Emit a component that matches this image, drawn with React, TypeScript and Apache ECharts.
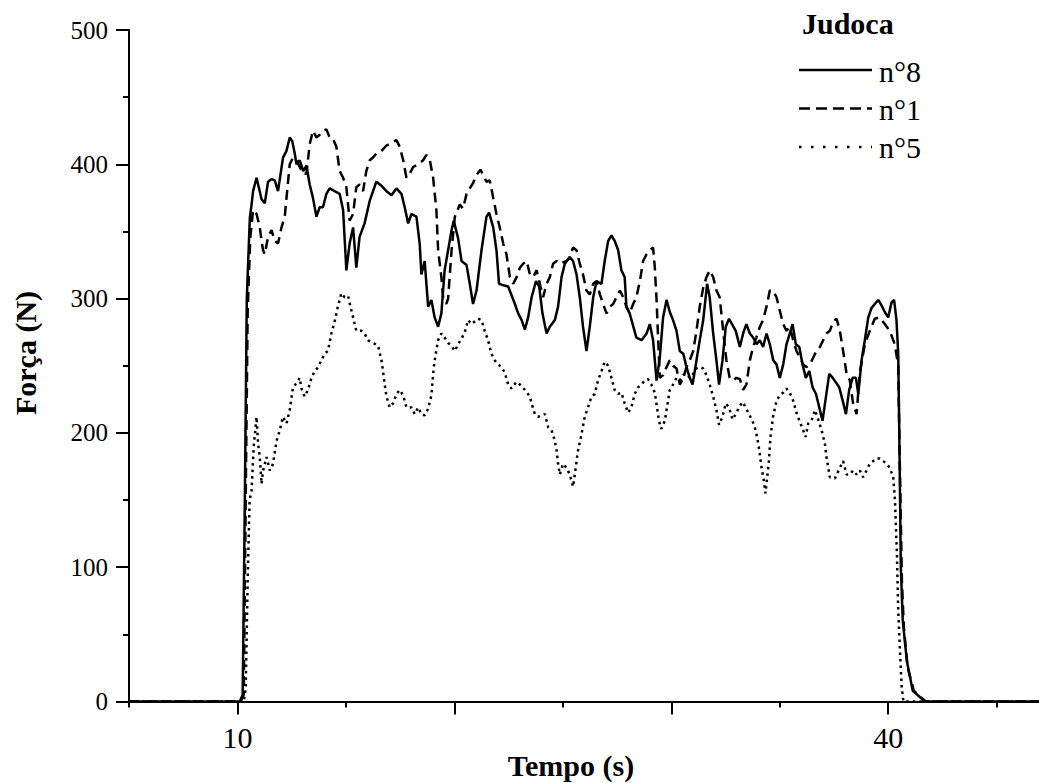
import React, { useEffect, useRef } from "react";
import * as echarts from "echarts";

// ---- Data (time in s, force in N) ----
const seriesNames = ["n°8", "n°1", "n°5"];
const xLabelValues = [10, 40];
const xMajorTicks = [10, 20, 30, 40];
const xMinorTicks = [5, 15, 25, 35, 45];
const yTicks = [0, 100, 200, 300, 400, 500];

const judoca8: [number, number][] = [
  [5, 0], [10.11, 0], [10.24, 5], [10.34, 150], [10.43, 300], [10.57, 360], [10.65, 370], [10.72, 380], [10.88, 390], [11.11, 374],
  [11.26, 371], [11.41, 387], [11.57, 389], [11.72, 388], [11.87, 380], [12.10, 405], [12.26, 410], [12.41, 420], [12.53, 417], [12.64, 408],
  [12.72, 400], [12.87, 403], [13.03, 395], [13.18, 399], [13.33, 385], [13.48, 375], [13.64, 361], [13.79, 368], [13.94, 368], [14.10, 378],
  [14.25, 382], [14.48, 380], [14.71, 378], [14.87, 366], [15.02, 321], [15.17, 341], [15.33, 353], [15.48, 323], [15.63, 346], [15.86, 356],
  [16.10, 373], [16.40, 387], [16.64, 384], [16.87, 380], [17.10, 377], [17.33, 382], [17.56, 378], [17.71, 368], [17.87, 356], [18.02, 363],
  [18.25, 361], [18.40, 341], [18.48, 318], [18.63, 328], [18.79, 294], [18.94, 299], [19.09, 286], [19.25, 279], [19.40, 289], [19.55, 321],
  [19.71, 336], [19.87, 351], [19.97, 358], [20.17, 345], [20.33, 328], [20.56, 325], [20.71, 311], [20.86, 296], [21.02, 306], [21.25, 336],
  [21.48, 361], [21.60, 364], [21.79, 353], [21.94, 336], [22.06, 311], [22.25, 310], [22.48, 309], [22.79, 296], [22.94, 289], [23.10, 284],
  [23.25, 277], [23.40, 286], [23.56, 301], [23.76, 313], [23.91, 309], [24.06, 289], [24.25, 274], [24.40, 279], [24.63, 284], [24.78, 294],
  [24.94, 316], [25.09, 326], [25.32, 331], [25.47, 328], [25.63, 318], [25.78, 301], [25.93, 279], [26.09, 261], [26.24, 279], [26.40, 301],
  [26.55, 313], [26.78, 311], [26.93, 328], [27.09, 343], [27.24, 347], [27.39, 343], [27.55, 336], [27.70, 321], [27.85, 316], [27.93, 294],
  [28.08, 289], [28.39, 271], [28.63, 269], [28.86, 274], [29.01, 281], [29.16, 269], [29.32, 239], [29.47, 256], [29.62, 286], [29.78, 299],
  [29.93, 290], [30.08, 284], [30.24, 276], [30.39, 261], [30.55, 259], [30.70, 249], [30.85, 241], [30.98, 236], [31.16, 254], [31.31, 269],
  [31.47, 284], [31.65, 311], [31.77, 301], [31.93, 274], [32.08, 254], [32.20, 236], [32.36, 254], [32.51, 279], [32.66, 285], [32.97, 276],
  [33.16, 264], [33.31, 274], [33.46, 281], [33.62, 274], [33.77, 271], [33.93, 266], [34.08, 269], [34.23, 264], [34.39, 274], [34.54, 266],
  [34.70, 254], [34.85, 251], [35.00, 241], [35.16, 251], [35.31, 266], [35.46, 274], [35.59, 281], [35.74, 266], [35.90, 264], [36.05, 251],
  [36.20, 241], [36.36, 246], [36.51, 234], [36.67, 229], [36.82, 219], [36.97, 209], [37.13, 227], [37.28, 244], [37.44, 241], [37.74, 234],
  [37.90, 224], [38.05, 214], [38.20, 232], [38.36, 241], [38.51, 241], [38.62, 229], [38.77, 254], [38.92, 269], [39.08, 286], [39.23, 293],
  [39.38, 296], [39.54, 299], [39.69, 295], [39.84, 290], [40.00, 286], [40.15, 297], [40.27, 299], [40.38, 284], [40.46, 259], [40.51, 200],
  [40.58, 100], [40.67, 60], [40.86, 30], [41.13, 8], [41.69, 0], [46.95, 0],
];

const judoca1: [number, number][] = [
  [5, 0], [10.15, 0], [10.29, 5], [10.38, 150], [10.47, 290], [10.59, 345], [10.72, 366], [10.88, 363], [11.03, 353], [11.11, 343],
  [11.18, 336], [11.26, 333], [11.41, 346], [11.57, 351], [11.72, 343], [11.87, 341], [12.03, 353], [12.18, 361], [12.26, 375], [12.41, 400],
  [12.56, 405], [12.72, 403], [12.87, 398], [13.03, 393], [13.18, 393], [13.33, 415], [13.48, 425], [13.64, 420], [13.79, 422], [13.94, 425],
  [14.10, 426], [14.25, 420], [14.40, 419], [14.56, 413], [14.71, 395], [14.87, 390], [15.02, 383], [15.17, 358], [15.33, 363], [15.48, 383],
  [15.63, 385], [15.79, 380], [15.94, 395], [16.10, 403], [16.25, 405], [16.40, 408], [16.64, 410], [16.87, 414], [17.10, 416], [17.33, 418],
  [17.48, 413], [17.64, 403], [17.79, 390], [17.94, 393], [18.10, 398], [18.33, 400], [18.56, 403], [18.71, 407], [18.87, 403], [19.02, 390],
  [19.17, 366], [19.25, 336], [19.40, 316], [19.48, 301], [19.63, 296], [19.71, 300], [19.87, 336], [20.02, 361], [20.25, 370], [20.40, 367],
  [20.56, 378], [20.71, 382], [20.86, 386], [21.02, 392], [21.20, 396], [21.33, 392], [21.48, 387], [21.63, 388], [21.79, 375], [21.94, 363],
  [22.09, 353], [22.25, 341], [22.40, 333], [22.56, 316], [22.71, 311], [22.87, 316], [23.02, 323], [23.17, 326], [23.33, 328], [23.48, 318],
  [23.63, 316], [23.79, 321], [23.94, 311], [24.09, 301], [24.25, 311], [24.40, 316], [24.55, 326], [24.71, 328], [24.86, 326], [25.17, 328],
  [25.32, 331], [25.47, 338], [25.63, 336], [25.78, 326], [25.93, 318], [26.09, 306], [26.24, 303], [26.40, 311], [26.55, 313], [26.71, 303],
  [26.86, 296], [27.01, 289], [27.17, 294], [27.32, 296], [27.47, 301], [27.63, 306], [27.78, 301], [27.93, 294], [28.08, 289], [28.24, 296],
  [28.39, 301], [28.55, 313], [28.70, 328], [28.86, 333], [29.01, 336], [29.16, 338], [29.24, 323], [29.32, 299], [29.39, 271], [29.47, 241],
  [29.62, 243], [29.78, 249], [29.93, 254], [30.08, 250], [30.24, 248], [30.39, 236], [30.55, 241], [30.70, 249], [30.85, 254], [31.01, 261],
  [31.16, 276], [31.31, 294], [31.47, 308], [31.62, 316], [31.77, 321], [31.93, 316], [32.08, 306], [32.23, 301], [32.39, 276], [32.54, 254],
  [32.69, 241], [32.85, 239], [33.00, 241], [33.16, 240], [33.31, 232], [33.46, 236], [33.62, 254], [33.77, 264], [33.92, 271], [34.08, 279],
  [34.23, 284], [34.39, 294], [34.54, 306], [34.69, 306], [34.85, 301], [35.00, 291], [35.16, 281], [35.31, 276], [35.46, 279], [35.62, 269],
  [35.77, 261], [35.93, 256], [36.08, 251], [36.23, 249], [36.39, 251], [36.54, 256], [36.69, 261], [36.85, 264], [37.00, 269], [37.15, 274],
  [37.31, 276], [37.46, 283], [37.62, 285], [37.77, 276], [37.92, 261], [38.08, 244], [38.23, 239], [38.38, 222], [38.54, 214], [38.69, 245],
  [38.92, 266], [39.15, 276], [39.38, 285], [39.61, 286], [39.84, 281], [40.07, 276], [40.30, 266], [40.46, 250], [40.53, 180], [40.63, 90],
  [40.72, 55], [40.90, 25], [41.18, 8], [41.73, 0], [46.95, 0],
];

const judoca5: [number, number][] = [
  [5, 0], [10.29, 0], [10.38, 10], [10.47, 90], [10.56, 150], [10.65, 157], [10.75, 190], [10.88, 212], [10.95, 192], [11.03, 182],
  [11.11, 162], [11.18, 172], [11.34, 182], [11.49, 172], [11.64, 177], [11.80, 194], [11.95, 202], [12.10, 212], [12.26, 207], [12.41, 217],
  [12.56, 234], [12.72, 237], [12.87, 241], [12.95, 233], [13.10, 227], [13.25, 232], [13.41, 241], [13.56, 246], [13.72, 249], [13.87, 254],
  [14.02, 259], [14.17, 261], [14.33, 274], [14.48, 283], [14.63, 294], [14.79, 304], [14.94, 301], [15.10, 302], [15.21, 294], [15.33, 286],
  [15.48, 276], [15.71, 276], [15.86, 274], [16.02, 269], [16.25, 267], [16.48, 265], [16.64, 254], [16.71, 246], [16.79, 236], [16.87, 227],
  [17.02, 219], [17.17, 222], [17.33, 229], [17.48, 232], [17.64, 228], [17.79, 219], [18.02, 219], [18.17, 214], [18.33, 219], [18.48, 214],
  [18.63, 213], [18.79, 218], [18.94, 228], [19.05, 249], [19.14, 259], [19.25, 269], [19.40, 274], [19.55, 271], [19.71, 267], [19.86, 265],
  [20.02, 261], [20.17, 266], [20.32, 270], [20.48, 275], [20.63, 284], [20.79, 281], [20.94, 283], [21.09, 285], [21.25, 284], [21.40, 276],
  [21.55, 269], [21.71, 259], [21.86, 254], [22.02, 251], [22.17, 249], [22.32, 245], [22.48, 236], [22.63, 233], [22.86, 238], [23.02, 236],
  [23.25, 232], [23.48, 227], [23.56, 222], [23.71, 214], [23.86, 212], [24.17, 214], [24.33, 204], [24.48, 202], [24.63, 194], [24.71, 187],
  [24.78, 177], [24.86, 169], [25.01, 177], [25.17, 174], [25.32, 169], [25.47, 160], [25.55, 169], [25.70, 187], [25.86, 199], [26.01, 212],
  [26.16, 219], [26.32, 227], [26.47, 229], [26.62, 239], [26.78, 246], [26.93, 253], [27.09, 250], [27.24, 241], [27.39, 232], [27.55, 229],
  [27.70, 230], [27.85, 222], [28.01, 215], [28.16, 219], [28.31, 229], [28.47, 234], [28.62, 236], [28.77, 239], [28.93, 240], [29.08, 236],
  [29.24, 230], [29.34, 219], [29.43, 209], [29.54, 203], [29.70, 209], [29.80, 219], [29.93, 232], [30.08, 236], [30.24, 241], [30.39, 239],
  [30.55, 243], [30.70, 244], [30.85, 241], [31.01, 244], [31.16, 248], [31.31, 249], [31.47, 248], [31.62, 243], [31.77, 236], [31.93, 227],
  [32.08, 217], [32.20, 206], [32.36, 212], [32.51, 222], [32.66, 219], [32.82, 210], [32.97, 214], [33.12, 219], [33.28, 223], [33.43, 219],
  [33.58, 214], [33.74, 209], [33.89, 202], [34.01, 192], [34.08, 184], [34.16, 174], [34.26, 165], [34.34, 155], [34.42, 167], [34.50, 179],
  [34.57, 197], [34.69, 212], [34.85, 224], [35.00, 228], [35.16, 230], [35.31, 233], [35.46, 230], [35.62, 224], [35.77, 215], [35.93, 208],
  [36.08, 202], [36.19, 197], [36.31, 207], [36.46, 209], [36.62, 217], [36.77, 210], [36.93, 202], [37.08, 192], [37.15, 182], [37.31, 167],
  [37.54, 166], [37.77, 174], [37.92, 179], [38.08, 169], [38.23, 169], [38.38, 172], [38.54, 169], [38.69, 172], [38.84, 167], [39.00, 172],
  [39.15, 177], [39.31, 179], [39.46, 181], [39.61, 181], [39.77, 179], [39.92, 177], [40.07, 174], [40.23, 167], [40.31, 150], [40.40, 110],
  [40.46, 68], [40.54, 38], [40.62, 11], [40.70, 0], [46.95, 0],
];

const SERIF = "Liberation Serif";
const BLACK = "#000";

function txt(text: string, x: number, y: number, size: number, bold: boolean, align: string, rotation = 0) {
  return {
    type: "text",
    x,
    y,
    rotation,
    style: {
      text,
      fontFamily: SERIF,
      fontSize: size,
      fontWeight: bold ? "bold" : "normal",
      fill: BLACK,
      textAlign: align,
      textVerticalAlign: "middle",
    },
  };
}

export default function App() {
  const ref = useRef<HTMLDivElement>(null);

  useEffect(() => {
    document.body.style.margin = "0";
    const chart = echarts.init(ref.current as HTMLDivElement, null, { renderer: "svg" });
    const axisLineStyle = { color: BLACK, width: 2 };

    const option: any = {
      animation: false,
      backgroundColor: "#ffffff",
      textStyle: { fontFamily: SERIF },
      grid: { left: 129, right: 0, top: 30, bottom: 81.5, containLabel: false },
      xAxis: [
        {
          type: "value",
          min: 5,
          max: 46.95,
          position: "bottom",
          axisLine: { show: true, onZero: false, lineStyle: axisLineStyle },
          axisTick: { show: true, customValues: xMajorTicks, length: 13, lineStyle: axisLineStyle },
          axisLabel: {
            show: true,
            customValues: xLabelValues,
            fontFamily: SERIF,
            fontSize: 30,
            color: BLACK,
            margin: 21,
          },
          splitLine: { show: false },
        },
        {
          type: "value",
          min: 5,
          max: 46.95,
          position: "bottom",
          axisLine: { show: false, onZero: false },
          axisTick: { show: true, customValues: xMinorTicks, length: 6, lineStyle: axisLineStyle },
          axisLabel: { show: false },
          splitLine: { show: false },
        },
      ],
      yAxis: {
        type: "value",
        min: 0,
        max: 500,
        interval: 100,
        axisLine: { show: true, onZero: false, lineStyle: axisLineStyle },
        axisTick: { show: true, length: 13, lineStyle: axisLineStyle },
        minorTick: { show: true, splitNumber: 2, length: 6, lineStyle: axisLineStyle },
        axisLabel: {
          customValues: yTicks,
          fontFamily: SERIF,
          fontSize: 25,
          color: BLACK,
          margin: 21,
        },
        splitLine: { show: false },
        minorSplitLine: { show: false },
      },
      series: [
        {
          name: seriesNames[2],
          type: "line",
          data: judoca5,
          showSymbol: false,
          symbol: "none",
          lineStyle: { color: BLACK, width: 2.5, type: [2.5, 4] },
          z: 2,
        },
        {
          name: seriesNames[1],
          type: "line",
          data: judoca1,
          showSymbol: false,
          symbol: "none",
          lineStyle: { color: BLACK, width: 2.5, type: [10, 6] },
          z: 3,
        },
        {
          name: seriesNames[0],
          type: "line",
          data: judoca8,
          showSymbol: false,
          symbol: "none",
          lineStyle: { color: BLACK, width: 2.5, type: "solid" },
          z: 4,
        },
      ],
      graphic: [
        txt("Tempo (s)", 571, 765, 30, true, "center"),
        txt("Força (N)", 25, 353, 30, true, "center", Math.PI / 2),
        txt("Judoca", 802, 23, 30, true, "left"),
        {
          type: "line",
          shape: { x1: 799, y1: 70, x2: 872, y2: 70 },
          style: { stroke: BLACK, lineWidth: 2.5 },
        },
        {
          type: "line",
          shape: { x1: 799, y1: 108.5, x2: 872, y2: 108.5 },
          style: { stroke: BLACK, lineWidth: 2.5, lineDash: [11, 6] },
        },
        {
          type: "line",
          shape: { x1: 799, y1: 147, x2: 872, y2: 147 },
          style: { stroke: BLACK, lineWidth: 2.5, lineDash: [2.5, 9.5] },
        },
        txt(seriesNames[0], 879, 71, 30, false, "left"),
        txt(seriesNames[1], 879, 109, 30, false, "left"),
        txt(seriesNames[2], 879, 147, 30, false, "left"),
      ],
    };

    chart.setOption(option);
    return () => {
      chart.dispose();
    };
  }, []);

  return <div ref={ref} style={{ width: 1039, height: 783 }} />;
}
